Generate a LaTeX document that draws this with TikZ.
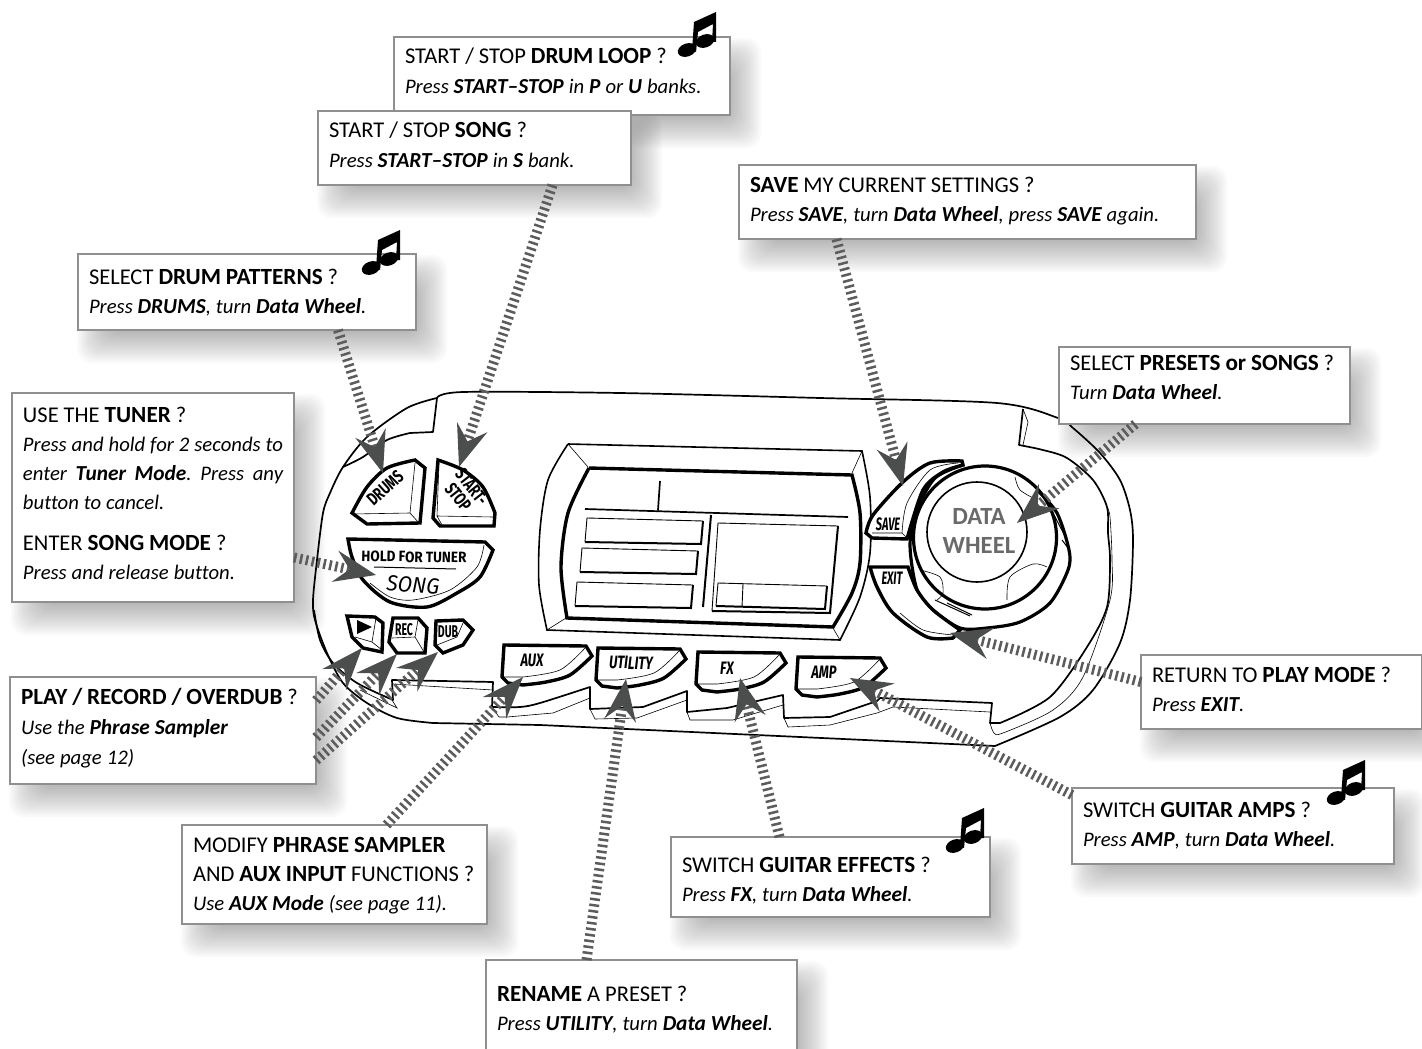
\documentclass[tikz,border=0pt]{standalone}
\usepackage{fontspec}
\usepackage{graphicx}
\usepackage{tikz}
\usetikzlibrary{arrows.meta,positioning}
\setmainfont{Carlito}[Ligatures=NoCommon,BoldFeatures={Scale=1.03},ItalicFeatures={Scale=.92},BoldItalicFeatures={Scale=.95}]
\newfontfamily\keyfont{Fira Sans}
\newcommand{\keytext}[1]{\scalebox{.72}[1]{\keyfont\fontsize{18}{18}\selectfont\bfseries #1}}
\newcommand{\smallkey}[1]{\scalebox{.62}[1]{\keyfont\fontsize{17}{17}\selectfont\bfseries #1}}
\newcommand{\softshadow}[1]{%
    \foreach \s in {-14,-12,...,16} {
        \fill[black,opacity=.021,rounded corners=14pt] ([shift={(15-\s,17-\s)}]#1.north west) rectangle ([shift={(15+\s,17+\s)}]#1.south east);
    }
}
\pgfdeclarelayer{backdrop}
\pgfsetlayers{backdrop,main}
\definecolor{boxgray}{HTML}{8F8F8F}
\definecolor{tipgray}{HTML}{4C4E4D}
\definecolor{hatchgray}{HTML}{5C5C5C}
\definecolor{wheelgray}{HTML}{6A6A6A}
\tikzset{
    infobox/.style={draw=boxgray,line width=2.6pt,fill=white,anchor=north west,align=left,inner xsep=11pt,inner ysep=0pt,outer sep=0pt,font=\fontsize{22.5}{29}\selectfont,execute at begin node={\spaceskip=.22em plus .3em minus .05em\xspaceskip=\spaceskip}},
    bodyline/.style={line width=1.7pt,line join=round},
    thinline/.style={line width=.6pt},
    keyline/.style={line width=3.4pt,fill=white,line join=miter},
    screenline/.style={line width=1.6pt},
    hatch/.style={draw=hatchgray,line width=10pt,dash pattern=on 2.5pt off 3.5pt,-{Stealth[length=42pt,width=32pt,inset=15pt,line width=0pt,color=tipgray]}},
    keylabel/.style={inner sep=0pt},
    beamnote/.pic={
        \fill (14,38) -- (16,10) -- (38,0) -- (38,30) -- (34,30) -- (35,12) -- (20,20) -- (18,40) -- cycle;
        \fill[rotate around={20:(9,38)}] (9,38) ellipse [x radius=9.5pt,y radius=6.5pt];
        \fill[rotate around={20:(27,29)}] (27,29) ellipse [x radius=9.5pt,y radius=6.5pt];
    }
}

\begin{document}
\begin{tikzpicture}[x=1pt,y=-1pt]
    \useasboundingbox (0,0) rectangle (1422,1049);

    % body of the unit
    \draw[bodyline] plot[smooth] coordinates {(437,398) (463,392) (620,393) (820,398) (997,403) (1058,418) (1073,428) (1100,453) (1120,480) (1130,510) (1133,540) (1130,600) (1120,643) (1093,690) (1060,717) (995,746)}
        -- (540,725) -- (433,723)
        -- plot[smooth] coordinates {(433,723) (397,718) (367,703) (343,683) (327,653) (315,620) (313,600) (317,560) (323,513) (330,493) (343,467) (367,437) (407,408) (437,398)};
    \draw[bodyline] plot[smooth] coordinates {(314,610) (320,640) (333,663) (357,683) (393,700)} -- (392,680) -- (493,682) -- (492,707)
        -- plot[smooth] coordinates {(492,707) (520,707) (540,703) (590,687)} -- (590,709) -- (643,707) -- (687,691) -- (687,712) -- (727,708) -- (783,695) -- (784,718) -- (830,717) -- (877,701) -- (880,698) -- (992,703) -- (990,723) -- (1000,723)
        -- plot[smooth] coordinates {(1000,723) (1050,697) (1087,647) (1107,607) (1110,560) (1108,533) (1107,507) (1093,480) (1067,458) (1043,450) (1019,445)} -- (1023,409);
    \draw[bodyline] (437,398) -- (433,432) -- (410,433) -- plot[smooth] coordinates {(410,433) (387,440) (363,457) (343,467)};
    \draw[thinline] (393,684) -- (493,690) (392,700) -- (397,708) -- (360,690);
    \draw[thinline] (492,707) -- (499,717) -- (507,717) -- (553,713) -- (590,698);
    \draw[thinline] (590,709) -- (595,719) -- (637,718) -- (687,700);
    \draw[thinline] (687,712) -- (690,720) -- (733,720) -- (783,705);
    \draw[thinline] (784,718) -- (788,727) -- (830,725) -- (877,713) -- (893,707) -- (990,712);
    \draw[thinline] plot[smooth] coordinates {(990,723) (994,733) (1003,733) (1053,710) (1083,677) (1110,600) (1112,560) (1110,517) (1107,507)};
    \draw[thinline] (1023,409) -- (1028,422) -- (1023,445);

    % screen
    \draw[screenline] (568,444) -- (862,451) -- plot[smooth] coordinates {(862,451) (870,497) (870,553) (860,597) (840,640)}
        -- (547,630) -- plot[smooth] coordinates {(547,630) (539,585) (540,530) (548,480) (568,444)};
    \draw[line width=3.4pt] (589,468) -- (852,475) -- plot[smooth] coordinates {(852,475) (860,513) (860,563) (852,593) (833,627)}
        -- (567,618) -- plot[smooth] coordinates {(567,618) (561,567) (568,513) (589,468)};
    \draw[thinline] (568,444) -- (588,467) (862,451) -- (852,473) (547,630) -- (566,618) (840,640) -- (833,628);
    \draw[line width=1.7pt] (585,509) -- (848,517) (660,481) -- (658,510);
    \draw[line width=2pt] (711,515) -- (703,607);
    \foreach \a/\b/\c/\d in {587/518/703/521,582/548/698/552,577/582/693/585} {
        \draw[line width=.9pt] (\a-2,\b+24) -- (\a,\b) -- (\c,\b+3);
        \draw[line width=2pt] (\c,\b+3) -- (\c-2,\b+26) -- (\a-2,\b+24);
    }
    \draw[line width=.9pt] (712,611) -- (718,523) -- (838,526);
    \draw[line width=2pt] (838,526) -- (830,613) -- (712,611);
    \draw[line width=.9pt] (716,606) -- (718,583) -- (827,586) (743,584) -- (742,607);
    \draw[line width=2pt] (827,586) -- (825,609) -- (716,606);

    % wheel
    \draw[line width=3.2pt] (985,537.5) circle [radius=71.5pt];
    \draw[line width=1.6pt] (977,532) circle [radius=50pt];
    \draw[line width=3.2pt] plot[smooth] coordinates {(963,465) (935,478) (917,510) (910,545) (917,590) (933,610) (960,628) (987,628) (1020,622) (1050,603) (1068,570) (1069,550) (1057,513) (1037,490)};
    \draw[thinline] plot[smooth] coordinates {(1015,477) (1020,490) (1037,500)};
    \draw[thinline] plot[smooth] coordinates {(1007,600) (1010,577) (1033,564) (1047,567)};
    \draw[thinline] plot[smooth] coordinates {(920,570) (940,577) (943,593) (937,600)};
    \draw[line width=1pt] (1053,513) -- (1067,540) (1062,540) -- (1068,548) (935,600) -- (970,616) (947,603) -- (972,615);

    % keys
    \filldraw[keyline] plot[smooth] coordinates {(352,513) (367,487) (387,468) (415,460)} -- (425,468) -- (420,523) -- (367,524) -- cycle;
    \draw[thinline] (415,463) -- (410,513) -- (353,514) (410,513) -- (419,523);
    \filldraw[keyline] plot[smooth] coordinates {(438,460) (463,470) (483,487) (495,513)} -- (494,526) -- (440,526) -- (433,518) -- cycle;
    \draw[thinline] (439,463) -- (437,516) -- (493,517) (437,516) -- (442,525);
    \filldraw[keyline] (348,539) -- (485,542) -- (493,550) -- plot[smooth] coordinates {(493,550) (480,577) (457,593) (427,607) (390,602) (363,580) (352,557) (348,539)} -- cycle;
    \draw[thinline] plot[smooth] coordinates {(484,545) (477,567) (450,590) (413,600) (390,597) (370,583)};
    \draw[line width=1pt] (374,567) -- (456,569);
    \filldraw[keyline] (347,616) -- (375,617) -- (383,623) -- (382,652) -- (363,648) -- (352,637) -- cycle;
    \draw[thinline] (376,618) -- (372,642) -- (355,637) (372,642) -- (382,650);
    \fill (357,620) -- (372,627) -- (357,634) -- cycle;
    \filldraw[keyline] (393,618) -- (418,618) -- (427,628) -- (425,653) -- (397,653) -- (389,642) -- cycle;
    \draw[thinline] (418,620) -- (415,637) -- (392,638) (415,637) -- (424,652);
    \filldraw[keyline] (436,621) -- (463,620) -- (473,630) -- (463,645) -- (443,653) -- (435,645) -- cycle;
    \draw[thinline] (463,623) -- (457,637) -- (437,645);
    \foreach \a/\b in {504/645,598/648,698/652,798/657} {
        \filldraw[keyline] (\a,\b) -- (\a+82,\b+1) -- (\a+88,\b+11) -- plot[smooth] coordinates {(\a+88,\b+11) (\a+66,\b+30) (\a+42,\b+37) (\a+19,\b+40)} -- (\a+4,\b+38) -- (\a-2,\b+32) -- cycle;
        \draw[thinline] (\a-1,\b+32) -- (\a+19,\b+32) -- plot[smooth] coordinates {(\a+19,\b+32) (\a+56,\b+25) (\a+81,\b+3)};
    }
    \filldraw[keyline] plot[smooth] coordinates {(866,533) (873,515) (903,482) (930,463) (962,461)} -- (963,465) -- plot[smooth] coordinates {(963,465) (943,472) (923,490) (907,539)} -- (872,538) -- cycle;
    \draw[thinline] plot[smooth] coordinates {(958,463) (930,470) (907,503) (902,533)} (872,533) -- (902,533) -- (907,538);
    \filldraw[keyline] (870,567) -- (908,567) -- plot[smooth] coordinates {(908,567) (917,590) (933,610) (960,630)} -- (953,638) -- plot[smooth] coordinates {(953,638) (927,637) (893,613) (877,587) (870,567)} -- cycle;
    \draw[thinline] plot[smooth] coordinates {(900,613) (923,630) (953,635)};

    % key labels
    \node[keylabel,rotate=42] (drumslabel) at (385,488) {\keytext{DRUMS}};
    \node[keylabel,rotate=-52,align=center] (startlabel) at (465,492) {\keytext{START-}\\[3pt]\keytext{STOP}};
    \node[keylabel,rotate=-1] (tunerlabel) at (414,557) {\scalebox{.9}[1]{\keyfont\fontsize{15}{15}\selectfont\bfseries HOLD FOR TUNER}};
    \node[keylabel,rotate=-4] (songlabel) at (413,585) {\scalebox{.95}[1]{\keyfont\fontsize{22}{22}\selectfont\itshape SONG}};
    \node[keylabel] (reclabel) at (404,630) {\smallkey{REC}};
    \node[keylabel] (dublabel) at (448,632) {\smallkey{DUB}};
    \node[keylabel] (auxlabel) at (532,660) {\keytext{\itshape AUX}};
    \node[keylabel,rotate=-1] (utilitylabel) at (631,663) {\keytext{\itshape UTILITY}};
    \node[keylabel] (fxlabel) at (727,668) {\keytext{\itshape FX}};
    \node[keylabel] (amplabel) at (824,672) {\keytext{\itshape AMP}};
    \node[keylabel] (savelabel) at (888,524) {\scalebox{.85}[1]{\keytext{\itshape SAVE}}};
    \node[keylabel] (exitlabel) at (892,578) {\scalebox{.85}[1]{\keytext{\itshape EXIT}}};
    \node[text=wheelgray,align=center,inner sep=0pt,font=\fontsize{24}{28.5}\selectfont\bfseries] (wheellabel) at (979,531) {DATA\\WHEEL};

    % help boxes
    \node[infobox,text width=314pt,minimum height=78pt,text height=27pt,text depth=51pt] (loopbox) at (394,37) {START / STOP \textbf{DRUM LOOP} ?\\\textit{Press \textbf{START--STOP} in \textbf{P} or \textbf{U} banks.}};
    \node[infobox,text width=291pt,minimum height=74pt,text height=26pt,text depth=48pt] (songbox) at (318,111) {START / STOP \textbf{SONG} ?\\[1pt]\textit{Press \textbf{START--STOP} in \textbf{S} bank.}};
    \node[infobox,text width=316pt,minimum height=76pt,text height=30pt,text depth=46pt] (drumbox) at (78,254) {SELECT \textbf{DRUM PATTERNS} ?\\\textit{Press \textbf{DRUMS}, turn \textbf{Data Wheel}.}};
    \node[infobox,text width=260pt,minimum height=209pt,text height=29pt,text depth=180pt] (tunerbox) at (12,393) {USE THE \textbf{TUNER} ?\\\textit{\makebox[260pt][s]{Press and hold for 2 seconds to}}\\\textit{\makebox[260pt][s]{enter \textbf{Tuner Mode}. Press any}}\\\textit{button to cancel.}\\[12pt]ENTER \textbf{SONG MODE} ?\\\textit{Press and release button.}};
    \node[infobox,text width=284pt,minimum height=107pt,text height=27pt,text depth=80pt] (playbox) at (10,677) {\textbf{PLAY / RECORD / OVERDUB} ?\\[1pt]\textit{Use the \textbf{Phrase Sampler}}\\[1pt]\textit{(see page 12)}};
    \node[infobox,text width=283pt,minimum height=99pt,text height=27pt,text depth=72pt] (modifybox) at (182,825) {MODIFY \textbf{PHRASE SAMPLER}\\AND \textbf{AUX INPUT} FUNCTIONS ?\\\textit{Use \textbf{AUX Mode} (see page 11).}};
    \node[infobox,text width=289pt,minimum height=94pt,text height=41pt,text depth=53pt] (renamebox) at (486,960) {\textbf{RENAME} A PRESET ?\\\textit{Press \textbf{UTILITY}, turn \textbf{Data Wheel}.}};
    \node[infobox,text width=297pt,minimum height=80pt,text height=35pt,text depth=45pt] (fxbox) at (671,837) {SWITCH \textbf{GUITAR EFFECTS} ?\\\textit{Press \textbf{FX}, turn \textbf{Data Wheel}.}};
    \node[infobox,text width=300pt,minimum height=76pt,text height=29pt,text depth=47pt] (ampbox) at (1072,788) {SWITCH \textbf{GUITAR AMPS} ?\\\textit{Press \textbf{AMP}, turn \textbf{Data Wheel}.}};
    \node[infobox,text width=259pt,minimum height=74pt,text height=27pt,text depth=47pt] (returnbox) at (1141,655) {RETURN TO \textbf{PLAY MODE} ?\\\textit{Press \textbf{EXIT}.}};
    \node[infobox,text width=269pt,minimum height=77pt,text height=23pt,text depth=54pt] (presetbox) at (1059,347) {SELECT \textbf{PRESETS or SONGS} ?\\\textit{Turn \textbf{Data Wheel}.}};
    \node[infobox,text width=435pt,minimum height=74pt,text height=27pt,text depth=47pt] (savebox) at (739,165) {\textbf{SAVE} MY CURRENT SETTINGS ?\\\textit{Press \textbf{SAVE}, turn \textbf{Data Wheel}, press \textbf{SAVE} again.}};

    \begin{pgfonlayer}{backdrop}
        \foreach \boxname in {loopbox,songbox,drumbox,tunerbox,playbox,modifybox,renamebox,fxbox,ampbox,returnbox,presetbox,savebox} {
            \softshadow{\boxname}
        }
    \end{pgfonlayer}

    \pic at (678,12) {beamnote};
    \pic at (362,230) {beamnote};
    \pic at (1327,760) {beamnote};
    \pic at (946,808) {beamnote};

    % pointers
    \coordinate (drumstip) at (383,473);
    \coordinate (starttip) at (459,467);
    \coordinate (savetip) at (903,486);
    \coordinate (presettip) at (1017,523);
    \coordinate (exittip) at (950,633);
    \coordinate (amptip) at (850,678);
    \coordinate (fxtip) at (740,678);
    \coordinate (utilitytip) at (626,679);
    \coordinate (auxtip) at (523,677);
    \coordinate (songtip) at (376,575);
    \coordinate (playtip) at (362,648);
    \coordinate (rectip) at (397,654);
    \coordinate (dubtip) at (438,652);
    \foreach \fromnode/\dx/\dy/\tipname in {drumbox.south/91/0/drumstip,songbox.south/78/0/starttip,savebox.south/-131/0/savetip,presetbox.south/-69/0/presettip,returnbox.west/0/10/exittip,ampbox.west/0/31/amptip,fxbox.north/-51/0/fxtip,renamebox.north/-55/0/utilitytip,modifybox.north/52/0/auxtip,tunerbox.east/0/-60/songtip,playbox.east/0/30/playtip,playbox.east/0/-7/rectip,playbox.east/0/-30/dubtip} {
        \draw[hatch] ([xshift=\dx pt,yshift=\dy pt]\fromnode) -- (\tipname);
    }
\end{tikzpicture}
\end{document}
